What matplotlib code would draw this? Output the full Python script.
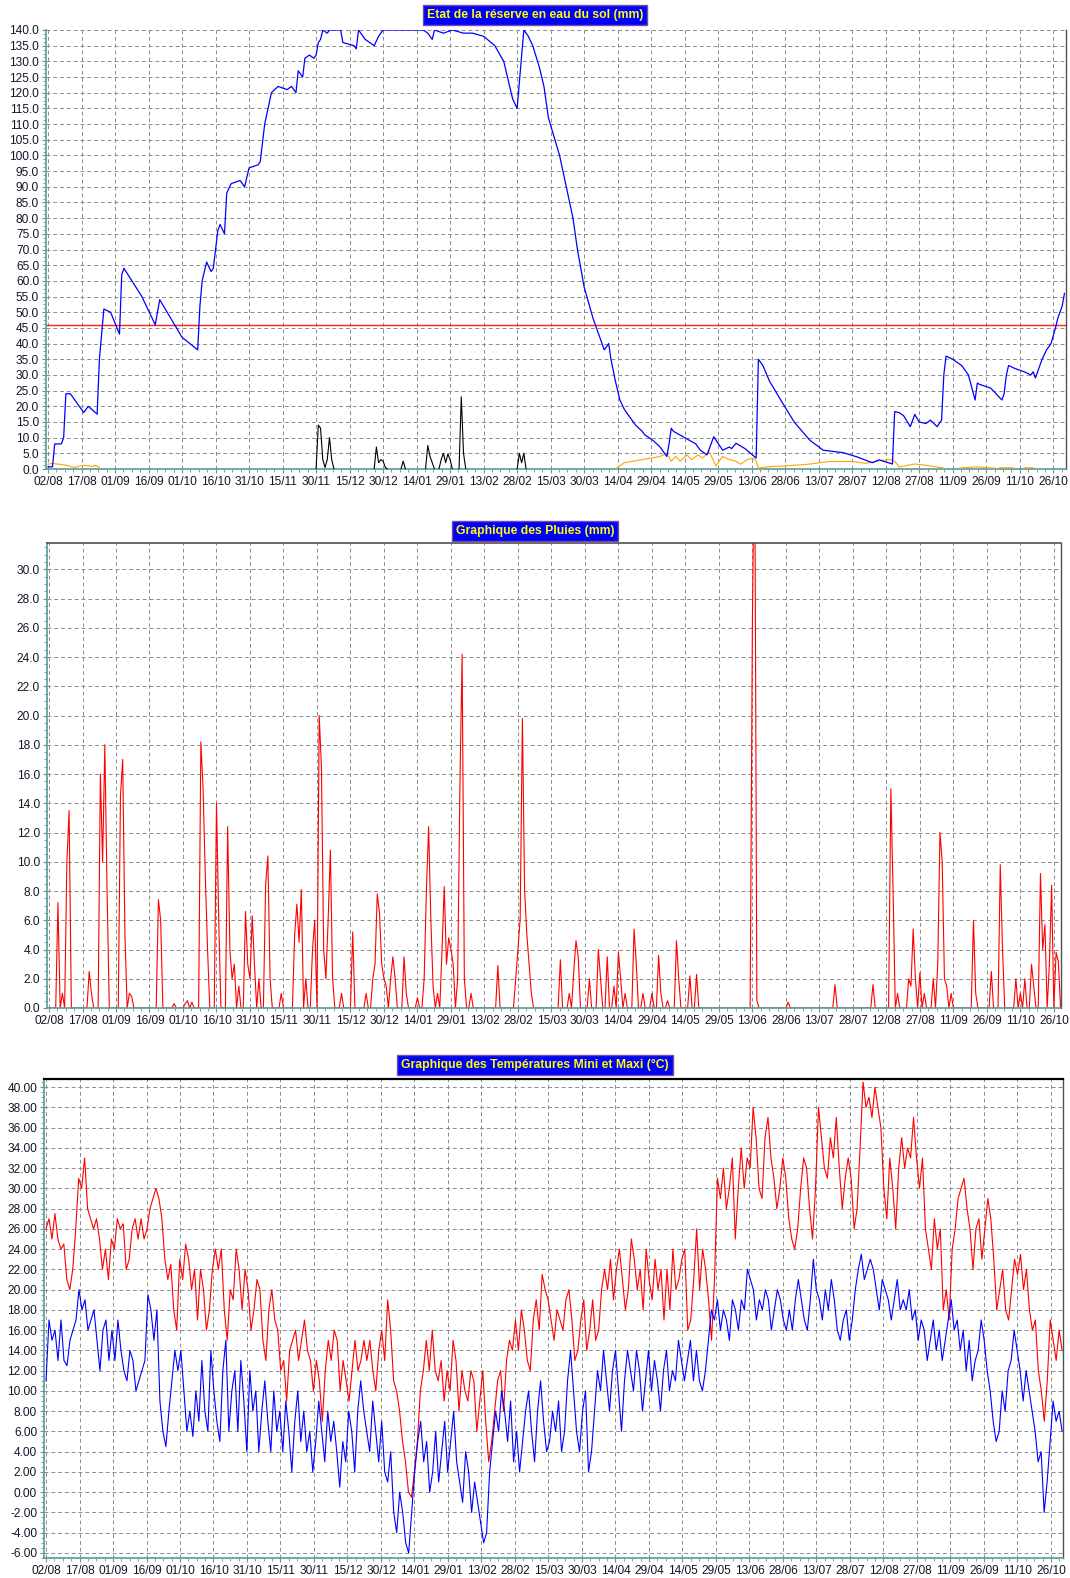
import numpy as np
import matplotlib
matplotlib.use("Agg")
import matplotlib.pyplot as plt
from matplotlib.ticker import MultipleLocator, FixedLocator, AutoMinorLocator, FormatStrFormatter

plt.rcParams["font.family"] = ["Liberation Sans", "DejaVu Sans"]

# ------------------------------------------------------------
# Data (day 0 = 02/08, one tick label every 15 days)
# ------------------------------------------------------------
DATE_LABELS = ["02/08", "17/08", "01/09", "16/09", "01/10", "16/10", "31/10", "15/11",
               "30/11", "15/12", "30/12", "14/01", "29/01", "13/02", "28/02", "15/03",
               "30/03", "14/04", "29/04", "14/05", "29/05", "13/06", "28/06", "13/07",
               "28/07", "12/08", "27/08", "11/09", "26/09", "11/10", "26/10"]
N_DAYS = 457
SEUIL_RU = 46.0  # red threshold line on the soil reserve chart

# soil water reserve (mm), read at (day, value) knots
RESERVE_DAYS = [0, 2, 3, 6, 7, 8, 10, 16, 18, 22, 23, 25, 28, 32, 33, 34, 42, 48, 50, 60,
                67, 68, 69, 71, 73, 74, 76, 77, 79, 80, 82, 86, 88, 90, 94, 95, 97, 100, 103, 107,
                109, 111, 112, 114, 115, 117, 119, 120, 121, 122, 123, 125, 126, 131, 132, 137, 138, 139, 140, 142,
                146, 148, 150, 168, 170, 172, 173, 177, 181, 186, 190, 195, 200, 204, 206, 208, 210, 213, 215, 217,
                220, 222, 224, 229, 232, 235, 237, 240, 244, 248, 249, 251, 252, 254, 256, 258, 261, 263, 266, 267,
                271, 274, 276, 277, 278, 279, 280, 285, 290, 292, 295, 298, 302, 305, 306, 308, 312, 317, 318, 320,
                323, 328, 334, 341, 347, 356, 362, 369, 372, 378, 379, 381, 383, 386, 388, 390, 393, 395, 398, 400,
                401, 402, 405, 409, 412, 415, 416, 417, 422, 427, 428, 429, 430, 433, 437, 440, 441, 442, 444, 445,
                447, 449, 451, 452, 454, 455]
RESERVE_MM = [0.7, 0.7, 8, 8, 10, 24, 24, 18, 20, 17.5, 35, 51, 50, 43, 62, 64, 55, 46, 54, 42,
              38, 52, 60, 66, 63, 64, 76, 78, 75, 88, 91, 92, 90, 96, 97, 98, 110, 120, 122, 121,
              122, 120, 127, 125, 131, 132, 131, 132, 136, 137, 140, 139, 140, 140, 136, 135, 134, 140, 139, 137,
              135, 138, 140, 140, 139, 137, 140, 139, 140, 139, 139, 138, 135, 130, 124, 118, 115, 140, 138, 135,
              128, 122, 112, 100, 90, 80, 70, 58, 48, 40, 38, 40, 35, 28, 22, 19, 16, 14, 12, 11,
              9, 7, 5, 4, 8, 13, 12, 10, 8, 6, 4.5, 10.3, 6, 7, 6.5, 8.2, 6.5, 3.5, 35, 33,
              28, 22, 15, 9.2, 6, 5.2, 3.9, 2, 2.9, 1.6, 18.3, 18, 17, 13.5, 17.4, 15, 14.5, 15.6, 13.5, 15.6,
              30, 36, 35, 33, 30, 22, 27.4, 27, 25.8, 22, 24, 30, 33, 32, 31, 30, 31, 29, 33, 35,
              38, 40, 45, 48, 52, 56]

# crop water use (orange); NaN breaks the line where nothing is drawn
CONSO_DAYS = [0, 2, 5, 8, 10, 12, 14, 16, 18, 20, 21, 23, 24,
              254, 256, 258, 262, 266, 270, 274, 277, 279, 281, 283, 286, 288, 291, 293, 296, 299,
              302, 305, 308, 310, 313, 316, 317, 318, 322, 330, 340, 350, 360, 366, 372, 377, 379, 381,
              385, 388, 394, 401, 402,
              408, 412, 416, 420, 424, 425, 426, 432, 433, 437, 441]
CONSO_MM = [1.5, 1.8, 1.5, 1.2, 0.8, 0.5, 0.9, 1.2, 1.0, 0.8, 1.2, 0.5, np.nan,
            0, 1, 2, 2.5, 3, 3.5, 4, 5, 2.5, 4, 2.5, 4.5, 3, 4.5, 3.5, 5.5, 1,
            4, 3, 2.5, 1.5, 3, 3.5, 2.5, 0.3, 0.7, 1, 1.5, 2.4, 2.4, 1.8, 2.7, 3, 2.5, 0.6,
            1.2, 1.6, 1.1, 0.3, np.nan,
            0.3, 0.5, 0.7, 0.4, 0.3, np.nan, 0.4, 0.4, np.nan, 0.4, 0.4]

# drainage (black)
DRAIN_DAYS = [120, 121, 122, 123, 124, 125, 126, 127, 128, 129,
              146, 147, 148, 149, 150, 151, 152, 153,
              158, 159, 160, 161,
              169, 170, 171, 172, 173, 174,
              175, 176, 177, 178, 179, 180, 181, 182,
              184, 185, 186, 187, 188,
              210, 211, 212, 213, 214]
DRAIN_MM = [0, 14, 13, 3, 0.5, 3, 10, 3, 0, np.nan,
            0, 7, 2, 3, 2.5, 0.5, 0, np.nan,
            0, 2.5, 0, np.nan,
            0, 7.5, 4, 2, 0, np.nan,
            0, 3, 5, 2, 4.8, 3, 0, np.nan,
            0, 23, 5, 0, np.nan,
            0, 5, 2, 5, 0]

# daily rain (mm), days without rain are 0
RAIN_DAYS = [4, 6, 8, 9, 18, 19, 23, 24, 25, 26, 32, 33, 34, 36, 37, 49, 50, 56, 61, 62,
             64, 68, 69, 70, 71, 75, 76, 80, 81, 82, 83, 85, 88, 89, 90, 91, 92, 94, 97, 98,
             99, 104, 110, 111, 112, 113, 115, 118, 119, 121, 122, 123, 124, 125, 126, 127, 131, 136, 142, 145,
             146, 147, 148, 149, 150, 151, 153, 154, 155, 159, 160, 165, 168, 169, 170, 171, 172, 174, 176, 177,
             178, 179, 180, 181, 183, 184, 185, 186, 189, 201, 209, 210, 211, 212, 213, 214, 215, 216, 229, 233,
             235, 236, 237, 242, 246, 247, 250, 253, 255, 256, 258, 262, 263, 266, 270, 273, 274, 277, 281, 282,
             287, 290, 315, 316, 317, 331, 352, 369, 377, 378, 380, 385, 386, 387, 388, 390, 392, 396, 398, 399,
             400, 401, 402, 404, 414, 415, 422, 426, 427, 433, 435, 437, 440, 441, 444, 445, 446, 448, 449, 451,
             452]
RAIN_MM = [7.2, 1.0, 10.0, 13.5, 2.5, 1.0, 16.0, 10.0, 18.0, 8.0, 14.5, 17.0, 5.0, 1.0, 0.8, 7.4, 6.0, 0.3, 0.3, 0.5,
           0.4, 18.2, 15.0, 9.0, 4.0, 14.0, 6.0, 12.4, 4.0, 2.0, 3.0, 1.5, 6.6, 3.0, 2.0, 6.3, 3.0, 2.0, 8.4, 10.4,
           2.0, 1.0, 5.0, 7.1, 4.5, 8.1, 2.0, 4.0, 6.0, 20.0, 16.5, 4.0, 2.0, 6.0, 10.8, 2.0, 1.0, 5.2, 1.0, 2.0,
           3.0, 7.8, 6.5, 3.0, 2.0, 1.5, 2.0, 3.5, 2.0, 3.5, 1.0, 0.7, 2.0, 8.0, 12.4, 6.0, 1.5, 1.0, 4.0, 8.3,
           3.0, 4.8, 4.0, 3.0, 2.0, 15.0, 24.2, 2.0, 1.0, 2.9, 2.0, 4.0, 6.1, 19.8, 8.0, 5.0, 3.0, 1.0, 3.3, 1.0,
           2.5, 4.6, 3.5, 2.0, 4.0, 2.0, 3.5, 1.5, 3.8, 2.0, 1.0, 5.4, 3.0, 1.0, 1.0, 3.6, 1.0, 0.5, 4.6, 2.0,
           2.2, 2.3, 26.5, 40.0, 0.5, 0.4, 1.6, 1.6, 15.0, 8.0, 1.0, 2.0, 1.5, 5.4, 2.0, 2.4, 1.0, 2.0, 3.0, 12.0,
           10.0, 2.0, 1.5, 1.0, 6.0, 1.0, 2.5, 9.8, 4.0, 2.0, 1.0, 2.0, 3.0, 1.5, 9.2, 4.0, 5.7, 3.0, 8.4, 3.8,
           3.2]

# temperatures (°C), read every ~1.35 day across the period
TMAX = [26, 27, 25, 27.5, 25, 24, 24.5, 21, 20, 22, 26, 31, 30, 33, 28, 27, 26, 27, 25, 22,
        24, 21, 25, 24, 27, 26, 26.5, 22, 23, 26, 27, 25, 27, 25, 26, 28, 29, 30, 29, 27,
        23, 21, 22.5, 18, 16, 23, 21, 24.5, 23, 20, 22, 17, 22, 20, 16, 18, 22, 24, 22, 24,
        18, 15, 20, 19, 24, 22, 18, 22, 20, 16, 18, 21, 20, 15, 13, 18, 20, 17, 16, 12,
        13, 9, 14, 15, 16, 13, 15, 17, 14, 13, 10, 13, 11, 7, 12, 15, 13, 16, 15, 10,
        13, 11, 9, 12, 15, 12, 13, 15, 13, 15, 12, 10, 14, 16, 13, 19, 16, 11, 10, 8,
        5, 3, 0, -0.5, 2, 5, 10, 12, 15, 12, 16, 12, 11, 13, 9, 12, 10, 15, 13, 8,
        12, 10, 9, 12, 11, 6, 9, 12, 7, 3, 5, 8, 11, 12, 8, 13, 15, 14, 17, 14,
        18, 16, 13, 12, 17, 19, 16, 21.5, 20, 19, 17, 15, 18, 17, 16, 19, 20, 17, 13, 14,
        17, 19, 14, 16, 19, 15, 16, 20, 22, 20, 23, 19, 22, 24, 21, 18, 20, 25, 23, 20,
        22, 18, 24, 21, 19, 23, 20, 22, 17, 22, 18, 24, 20, 21, 23, 24, 16, 17, 21, 26,
        20, 24, 22, 19, 15, 21, 31, 29, 32, 28, 30, 33, 25, 30, 34, 30, 33, 32, 38, 35,
        30, 29, 35, 37, 33, 31, 28, 30, 33, 31, 27, 25, 24, 26, 30, 33, 32, 28, 25, 30,
        38, 35, 32, 31, 35, 33, 37, 32, 28, 31, 33, 31, 26, 28, 34, 40.5, 38, 39, 37, 40,
        38, 36, 30, 27, 33, 30, 26, 32, 35, 32, 34, 33, 37, 33, 30, 33, 26, 24, 22, 27,
        24, 26, 18, 20, 17, 24, 26, 29, 30, 31, 28, 26, 22, 26, 27, 23, 26, 29, 27, 23,
        18, 20, 22, 18, 17, 20, 23, 21.5, 23.5, 20, 22, 18, 16, 17, 12, 10, 7, 11, 17, 15,
        13, 16, 14]
TMIN = [11, 17, 15, 16, 13, 17, 13, 12.5, 15, 16, 17, 20, 18, 19, 16, 17, 18, 15, 12, 16,
        17, 13, 16, 13, 17, 14, 12, 11, 14, 13, 10, 11, 12, 13, 19.5, 18, 15, 18, 9, 6,
        4.5, 8, 11, 14, 12, 14, 10, 6, 8, 5.5, 10, 7, 13, 8, 6, 14, 10, 7, 5, 12,
        15, 6, 10, 12, 6, 13, 9, 4, 12, 8, 10, 4, 8, 11, 7, 4, 10, 6, 8, 4,
        9, 6, 2, 7, 10, 5, 8, 4, 6, 2, 5, 9, 6, 3, 8, 5, 7, 4, 0.5, 5,
        3, 8, 6, 2, 8, 11, 8, 6, 4, 9, 6, 3, 7, 2, 1, 4, -2, -4, 0, -2,
        -5, -6, -2, 2, 5, 7, 3, 5, 0, 2, 6, 1, 4, 7, 2, 5, 8, 3, 1, -1,
        4, 2, -2, 1, -1, -3, -5, -4, 2, 5, 8, 6, 10, 8, 5, 9, 3, 6, 2, 5,
        8, 10, 6, 3, 8, 11, 7, 4, 5, 8, 6, 9, 4, 6, 11, 14, 10, 6, 4, 8,
        10, 2, 4, 8, 12, 10, 14, 11, 8, 12, 14, 10, 6, 11, 14, 12, 10, 14, 12, 8,
        11, 14, 10, 13, 11, 8, 12, 14, 10, 12, 11, 15, 13, 11, 13, 15, 11, 14, 11, 10,
        12, 15, 18, 17, 19, 16, 18, 17, 15, 19, 18, 16, 19, 18, 22, 21, 20, 17, 19, 18,
        20, 19, 16, 18, 20, 19, 17, 16, 18, 16, 19, 21, 19, 17, 16, 19, 23, 20, 19, 17,
        20, 18, 21, 19, 16, 15, 17, 18, 15, 17, 20, 22, 23.5, 21, 22, 23, 22, 20, 18, 21,
        20, 19, 17, 19, 21, 18, 19, 18, 20, 17, 18, 15, 17, 16, 13, 15, 17, 14, 16, 13,
        15, 17, 19, 16, 17, 14, 16, 12, 15, 11, 13, 14, 17, 15, 12, 10, 7, 5, 6, 10,
        8, 12, 13, 16, 14, 12, 9, 12, 10, 8, 6, 3, 4, -2, 1, 5, 9, 7, 8, 6]

# ------------------------------------------------------------
# Styling
# ------------------------------------------------------------
TEAL = "#5b9a9a"
FRAME = "#505050"
GRID = "#8c8c8c"
LABEL_COLOR = "#141428"
TITLE_BG = "#0000ff"
TITLE_FG = "#ffff00"
TITLE_EDGE = "#7a4aa8"
TICK_SIZE = 8.6

W, H = 1070, 1578


def axes_rect(left, top, right, bottom):
    return [left / W, 1 - bottom / H, (right - left) / W, (bottom - top) / H]


def style_axes(ax, ylim, ystep, yfmt, xlim, top_spine=None):
    ax.set_xlim(*xlim)
    ax.set_ylim(*ylim)
    tick_days = np.arange(len(DATE_LABELS)) * 15
    ax.xaxis.set_major_locator(FixedLocator(tick_days))
    ax.set_xticklabels(DATE_LABELS)
    ax.xaxis.set_minor_locator(AutoMinorLocator(4))
    ax.yaxis.set_major_locator(MultipleLocator(ystep))
    ax.yaxis.set_minor_locator(AutoMinorLocator(4))
    ax.yaxis.set_major_formatter(FormatStrFormatter(yfmt))
    ax.grid(True, which="major", color=GRID, linestyle=(0, (4, 3)), linewidth=0.7)
    ax.set_axisbelow(True)
    ax.tick_params(which="major", direction="out", length=3, width=0.8, color=TEAL,
                   labelsize=TICK_SIZE, labelcolor=LABEL_COLOR, pad=2)
    ax.tick_params(which="minor", direction="out", length=2, width=0.6, color=TEAL)
    for side in ("left", "bottom"):
        ax.spines[side].set_color(TEAL)
        ax.spines[side].set_linewidth(1.2)
    ax.spines["right"].set_color(FRAME)
    ax.spines["right"].set_linewidth(1.0)
    if top_spine is None:
        ax.spines["top"].set_visible(False)
    else:
        ax.spines["top"].set_color(top_spine[0])
        ax.spines["top"].set_linewidth(top_spine[1])


def panel_title(fig, y_px, text):
    fig.text(0.5, 1 - y_px / H, text, ha="center", va="center", fontsize=8.8,
             fontweight="bold", color=TITLE_FG,
             bbox=dict(boxstyle="square,pad=0.32", facecolor=TITLE_BG,
                       edgecolor=TITLE_EDGE, linewidth=1.0))


fig = plt.figure(figsize=(W / 100, H / 100), dpi=100)
fig.patch.set_facecolor("white")

# ---------------- soil reserve ----------------
ax1 = fig.add_axes(axes_rect(46, 30, 1066, 469))
ax1.axhline(SEUIL_RU, color="#ff2020", linewidth=1.0, zorder=2)
ax1.plot(CONSO_DAYS, CONSO_MM, color="#ffa500", linewidth=0.8, zorder=3)
ax1.plot(DRAIN_DAYS, DRAIN_MM, color="black", linewidth=0.8, zorder=3)
ax1.plot(RESERVE_DAYS, RESERVE_MM, color="#0000ff", linewidth=0.9, zorder=4)
style_axes(ax1, (0, 140), 5, "%.1f", (-0.9, 455.7))
panel_title(fig, 15, "Etat de la réserve en eau du sol (mm)")

# ---------------- rain ----------------
rain = np.zeros(N_DAYS)
rain[RAIN_DAYS] = RAIN_MM
ax2 = fig.add_axes(axes_rect(47, 543, 1061, 1008))
ax2.plot(np.arange(N_DAYS), rain, color="#ff0000", linewidth=0.8)
style_axes(ax2, (0, 31.8), 2, "%.1f", (-0.9, 453.2), top_spine=(FRAME, 1.2))
panel_title(fig, 531, "Graphique des Pluies (mm)")

# ---------------- temperatures ----------------
ax3 = fig.add_axes(axes_rect(44, 1079, 1063, 1558))
tmax_days = np.linspace(0, 455, len(TMAX))
tmin_days = np.linspace(0, 455, len(TMIN))
ax3.plot(tmax_days, TMAX, color="#ff0000", linewidth=0.8)
ax3.plot(tmin_days, TMIN, color="#0000ff", linewidth=0.8)
style_axes(ax3, (-6.5, 40.8), 2, "%.2f", (-0.9, 455.4), top_spine=("black", 1.6))
panel_title(fig, 1065, "Graphique des Températures Mini et Maxi (°C)")

fig.savefig("out.png", dpi=100, facecolor="white")
